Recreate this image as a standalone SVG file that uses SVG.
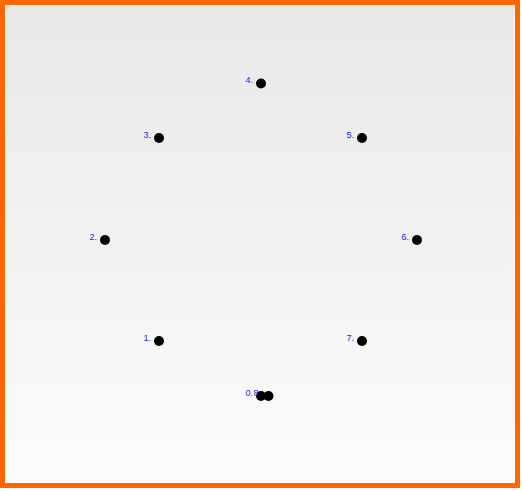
<svg xmlns="http://www.w3.org/2000/svg" width="522" height="491" viewBox="0 0 522 491">
<defs>
<linearGradient id="bg" x1="0" y1="0" x2="0" y2="1">
<stop offset="0" stop-color="#e8e8e8"/>
<stop offset="1" stop-color="#fcfcfc"/>
</linearGradient>
</defs>
<style>
.dot{fill:#000}
.lbl{font-family:"Liberation Sans",Arial,sans-serif;font-size:9px;fill:#1a1aff;text-anchor:end}
</style>
<rect x="0" y="0" width="522" height="491" fill="#ffffff"/>
<rect x="2.5" y="2.5" width="515" height="483" fill="url(#bg)" stroke="#ff6600" stroke-width="5"/>
<rect x="5.5" y="5.5" width="509" height="477" fill="none" stroke="#ffffff" stroke-opacity="0.7" stroke-width="1"/>
<g id="connectors"></g>
<g id="n0"><circle class="dot" cx="261" cy="396" r="5"/><text class="lbl" x="253" y="396">0.</text></g>
<g id="n1"><circle class="dot" cx="159" cy="341" r="5"/><text class="lbl" x="151" y="341">1.</text></g>
<g id="n2"><circle class="dot" cx="105" cy="240" r="5"/><text class="lbl" x="97" y="240">2.</text></g>
<g id="n3"><circle class="dot" cx="159" cy="138" r="5"/><text class="lbl" x="151" y="138">3.</text></g>
<g id="n4"><circle class="dot" cx="261" cy="83.5" r="5"/><text class="lbl" x="253" y="83">4.</text></g>
<g id="n5"><circle class="dot" cx="362" cy="138" r="5"/><text class="lbl" x="354" y="138">5.</text></g>
<g id="n6"><circle class="dot" cx="417" cy="240" r="5"/><text class="lbl" x="409" y="240">6.</text></g>
<g id="n7"><circle class="dot" cx="362" cy="341" r="5"/><text class="lbl" x="354" y="341">7.</text></g>
<g id="n8"><text class="lbl" x="261" y="396">8.</text><circle class="dot" cx="268.5" cy="396" r="5"/></g>
</svg>
